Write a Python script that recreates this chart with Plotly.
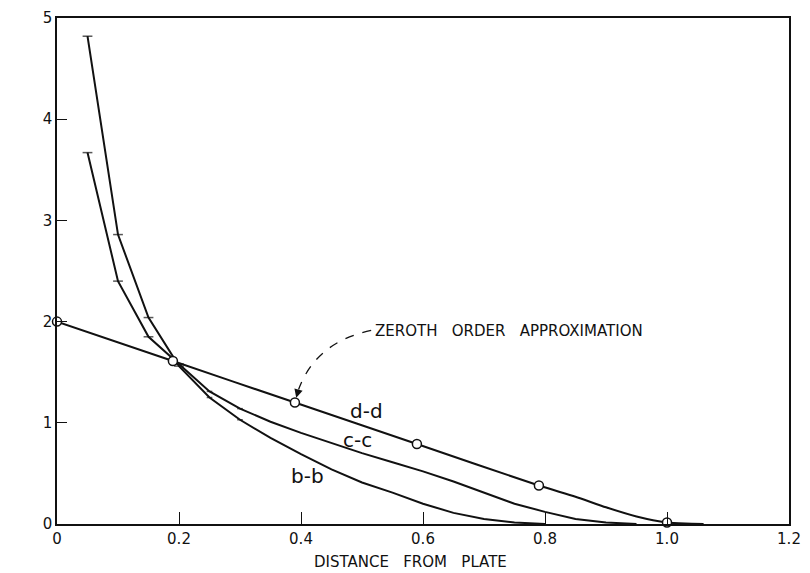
import plotly.graph_objects as go

# ---- data ----
bb_x = [0.05, 0.10, 0.15, 0.20, 0.25, 0.30, 0.35, 0.40, 0.45, 0.50, 0.55, 0.60, 0.65, 0.70, 0.75, 0.80]
bb_y = [4.82, 2.86, 2.04, 1.56, 1.25, 1.03, 0.85, 0.69, 0.54, 0.41, 0.31, 0.20, 0.11, 0.05, 0.015, 0.0]

cc_x = [0.05, 0.10, 0.15, 0.20, 0.25, 0.30, 0.35, 0.40, 0.45, 0.50, 0.55, 0.60, 0.65, 0.70, 0.75, 0.80, 0.85, 0.90, 0.95]
cc_y = [3.67, 2.40, 1.85, 1.58, 1.31, 1.14, 1.01, 0.90, 0.80, 0.70, 0.61, 0.52, 0.42, 0.31, 0.20, 0.12, 0.05, 0.015, 0.0]

dd_x = [0.0, 0.19, 0.39, 0.59, 0.79, 0.85, 0.90, 0.95, 1.00, 1.03, 1.06]
dd_y = [2.00, 1.61, 1.20, 0.79, 0.38, 0.27, 0.165, 0.075, 0.015, 0.004, 0.0]

circle_x = [0.0, 0.19, 0.39, 0.59, 0.79, 1.00]
circle_y = [2.00, 1.61, 1.20, 0.79, 0.38, 0.015]

x_ticks = [0, 0.2, 0.4, 0.6, 0.8, 1.0, 1.2]
x_tick_labels = ["0", "0.2", "0.4", "0.6", "0.8", "1.0", "1.2"]
y_ticks = [0, 1, 2, 3, 4, 5]
y_tick_labels = ["0", "1", "2", "3", "4", "5"]

curve_labels = ["d-d", "c-c", "b-b"]
curve_label_x = [0.507, 0.492, 0.411]
curve_label_y = [1.12, 0.83, 0.47]

note_text = "ZEROTH   ORDER   APPROXIMATION"
x_title = "DISTANCE   FROM   PLATE"
y_title = "|Ẽ|"
# leader (quadratic path): start, control, end in data units
leader = [(0.515, 1.913), (0.425, 1.80), (0.396, 1.33)]

FONT = "DejaVu Sans, Liberation Sans, sans-serif"
INK = "#111111"


def tick_sizes(xs):
    # visible cross-ticks only on the steep early part of the curves
    return [7 if x <= 0.2 else (4 if x <= 0.3 else 0) for x in xs]


fig = go.Figure()

fig.add_trace(go.Scatter(
    x=bb_x, y=bb_y, mode="lines+markers",
    line=dict(color=INK, width=2),
    marker=dict(symbol="line-ew", size=tick_sizes(bb_x), line=dict(color=INK, width=1.5)),
    showlegend=False, hoverinfo="skip"))

fig.add_trace(go.Scatter(
    x=cc_x, y=cc_y, mode="lines+markers",
    line=dict(color=INK, width=2),
    marker=dict(symbol="line-ew", size=tick_sizes(cc_x), line=dict(color=INK, width=1.5)),
    showlegend=False, hoverinfo="skip"))

fig.add_trace(go.Scatter(
    x=dd_x, y=dd_y, mode="lines",
    line=dict(color=INK, width=2, shape="spline", smoothing=0.6),
    showlegend=False, hoverinfo="skip"))

fig.add_trace(go.Scatter(
    x=circle_x, y=circle_y, mode="markers",
    marker=dict(symbol="circle", size=9, color="white", line=dict(color=INK, width=1.5)),
    showlegend=False, hoverinfo="skip", cliponaxis=False))

for t, lx, ly in zip(curve_labels, curve_label_x, curve_label_y):
    fig.add_annotation(x=lx, y=ly, text=t, showarrow=False,
                       font=dict(family=FONT, size=20, color=INK))

fig.add_annotation(x=0.518, y=1.91, text=note_text, showarrow=False,
                   xanchor="left", yanchor="middle",
                   font=dict(family=FONT, size=15, color=INK))

(p0, c0, p1) = leader
fig.add_shape(type="path",
              path=f"M {p0[0]},{p0[1]} Q {c0[0]},{c0[1]} {p1[0]},{p1[1]}",
              xref="x", yref="y",
              line=dict(color=INK, width=1.3, dash="dash"))
fig.add_annotation(x=circle_x[2], y=circle_y[2], ax=p1[0], ay=p1[1],
                   axref="x", ayref="y", xref="x", yref="y",
                   text="", showarrow=True, arrowhead=2, arrowsize=1.3,
                   arrowwidth=1.3, arrowcolor=INK, standoff=5)

# axis titles placed as free text (the original is hand-lettered, slightly off-centre)
fig.add_annotation(x=-0.06, y=2.55, xref="x", yref="y", text=y_title,
                   showarrow=False, font=dict(family=FONT, size=20, color=INK))
fig.add_annotation(x=0.58, y=-0.076, xref="x", yref="paper", text=x_title,
                   showarrow=False, yanchor="middle",
                   font=dict(family=FONT, size=15, color=INK))

fig.update_layout(
    width=810, height=573,
    margin=dict(l=57, r=12, t=9, b=49),
    paper_bgcolor="white", plot_bgcolor="white",
    font=dict(family=FONT, size=15, color=INK),
    xaxis=dict(range=[0, 1.2], tickmode="array", tickvals=x_ticks, ticktext=x_tick_labels,
               ticks="inside", ticklen=12, tickwidth=1, tickcolor=INK,
               showline=True, linewidth=1.5, linecolor=INK, mirror=True,
               showgrid=False, zeroline=False),
    yaxis=dict(range=[0, 5], tickmode="array", tickvals=y_ticks, ticktext=y_tick_labels,
               ticks="inside", ticklen=10, tickwidth=1, tickcolor=INK,
               showline=True, linewidth=1.5, linecolor=INK, mirror=True,
               showgrid=False, zeroline=False),
)

fig.write_html("out.html", config={"displayModeBar": False},
               post_script="document.body.style.margin='0';")
